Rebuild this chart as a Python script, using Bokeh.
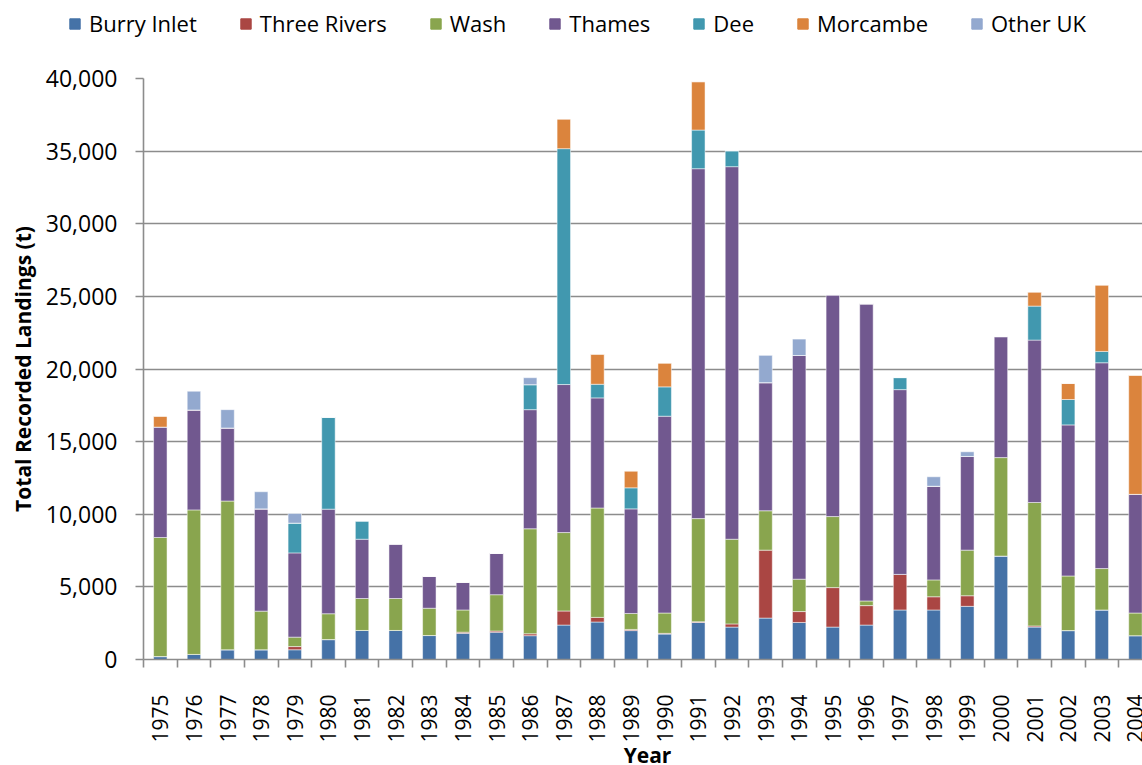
import math
from bokeh.plotting import figure
from bokeh.layouts import column
from bokeh.models import Range1d, FixedTicker, NumeralTickFormatter, Legend, LegendItem, Label
from bokeh.embed import file_html
from bokeh.resources import INLINE

years = list(range(1975, 2005))
series_names = ["Burry Inlet", "Three Rivers", "Wash", "Thames", "Dee", "Morcambe", "Other UK"]
colors = ["#4572A7", "#AA4643", "#89A54E", "#71588F", "#4198AF", "#DB843D", "#93A9CF"]

burry_inlet = [200, 350, 670, 670, 670, 1370, 2000, 2000, 1650, 1800, 1880, 1640, 2370, 2580, 1990,
               1750, 2550, 2230, 2850, 2550, 2230, 2370, 3410, 3410, 3660, 7120, 2230, 1990, 3410, 1640]
three_rivers = [0, 0, 0, 0, 220, 0, 0, 0, 0, 80, 80, 130, 970, 320, 80,
                50, 50, 220, 4680, 750, 2720, 1340, 2450, 910, 730, 0, 80, 0, 0, 0]
wash = [8200, 9950, 10240, 2660, 650, 1780, 2200, 2200, 1880, 1530, 2500, 7230, 5400, 7530, 1100,
        1400, 7100, 5830, 2710, 2230, 4890, 320, 0, 1160, 3140, 6780, 8500, 3760, 2850, 1560]
thames = [7600, 6880, 5030, 7040, 5800, 7200, 4080, 3750, 2200, 1910, 2850, 8200, 10190, 7580, 7200,
          13550, 24090, 25650, 8820, 15400, 15270, 20460, 12720, 6450, 6450, 8330, 11180, 10400, 14170, 8170]
dee = [0, 0, 0, 0, 2050, 6320, 1260, 0, 0, 0, 0, 1720, 16240, 940, 1450,
       2020, 2660, 1100, 0, 0, 0, 0, 830, 0, 0, 0, 2340, 1750, 780, 0]
morcambe = [750, 0, 0, 0, 0, 0, 0, 0, 0, 0, 0, 0, 2040, 2070, 1160,
            1640, 3330, 0, 0, 0, 0, 0, 0, 0, 0, 0, 970, 1100, 4570, 8200]
other_uk = [0, 1290, 1260, 1180, 670, 0, 0, 0, 0, 0, 0, 480, 0, 0, 0,
            0, 0, 0, 1880, 1130, 0, 0, 0, 650, 320, 0, 0, 0, 0, 0]

y_ticks = [0, 5000, 10000, 15000, 20000, 25000, 30000, 35000, 40000]
x_title = "Year"
y_title = "Total Recorded Landings (t)"

FONT = "Open Sans"
GRID = "#8c8c8c"

data = {"year": years}
for name, vals in zip(series_names, [burry_inlet, three_rivers, wash, thames, dee, morcambe, other_uk]):
    data[name] = vals


def strip(height):
    f = figure(width=1142, height=height, output_backend="svg", toolbar_location=None,
               x_range=Range1d(0, 1), y_range=Range1d(0, 1),
               x_axis_type=None, y_axis_type=None,
               min_border_left=0, min_border_right=0, min_border_top=0, min_border_bottom=0)
    f.frame_align = False
    f.outline_line_color = None
    f.grid.visible = False
    return f


# ---- legend strip (top) ----
lf = strip(60)
legend_renderers = lf.vbar_stack(series_names, x="year", width=0.4, source=data, color=colors)
for r in legend_renderers:
    r.visible = False
items = [LegendItem(label=n, renderers=[r]) for n, r in zip(series_names, legend_renderers)]
legend = Legend(items=items, orientation="horizontal", location=(68, 22),
                glyph_width=13, glyph_height=13, label_standoff=8, spacing=42,
                padding=2, margin=0, border_line_color=None, background_fill_alpha=0,
                label_text_font=FONT, label_text_font_size="22px", label_text_color="black")
lf.add_layout(legend, "center")

# ---- main chart ----
p = figure(width=1142, height=685, output_backend="svg", toolbar_location=None,
           x_range=Range1d(1974.5, 2004.21), y_range=Range1d(0, 40000),
           min_border_left=143, min_border_top=18, min_border_bottom=86, min_border_right=0)

p.vbar_stack(series_names, x="year", width=0.4, source=data, color=colors,
             line_color="white", line_width=0.5)

p.outline_line_color = None
p.xgrid.grid_line_color = None
p.ygrid.grid_line_color = GRID
p.ygrid.grid_line_width = 1.6
p.ygrid.ticker = FixedTicker(ticks=y_ticks)

# y axis
p.yaxis.ticker = FixedTicker(ticks=y_ticks)
p.yaxis.formatter = NumeralTickFormatter(format="0,0")
p.yaxis.axis_label = y_title
p.yaxis.axis_label_text_font = FONT
p.yaxis.axis_label_text_font_style = "bold"
p.yaxis.axis_label_text_font_size = "21px"
p.yaxis.axis_label_text_color = "black"
p.yaxis.axis_label_standoff = 6
p.yaxis.major_label_text_font = FONT
p.yaxis.major_label_text_font_size = "23px"
p.yaxis.major_label_text_color = "black"
p.yaxis.major_label_standoff = 18
p.yaxis.major_tick_out = 8
p.yaxis.major_tick_in = 0
p.yaxis.minor_tick_out = 0
p.yaxis.minor_tick_in = 0
p.yaxis.axis_line_color = GRID
p.yaxis.axis_line_width = 1.6
p.yaxis.major_tick_line_color = GRID
p.yaxis.major_tick_line_width = 1.6

# x axis
boundaries = [y - 0.5 for y in years] + [years[-1] + 0.5]
p.xaxis.ticker = FixedTicker(ticks=years, minor_ticks=boundaries)
p.xaxis.major_label_overrides = {y: str(y) for y in years}
p.xaxis.major_label_orientation = math.pi / 2
p.xaxis.major_label_text_font = FONT
p.xaxis.major_label_text_font_size = "21px"
p.xaxis.major_label_text_color = "black"
p.xaxis.major_label_standoff = 27
p.xaxis.major_tick_out = 0
p.xaxis.major_tick_in = 0
p.xaxis.minor_tick_out = 8
p.xaxis.minor_tick_in = 0
p.xaxis.minor_tick_line_color = GRID
p.xaxis.minor_tick_line_width = 1.6
p.xaxis.axis_line_color = GRID
p.xaxis.axis_line_width = 1.6

# ---- x title strip (bottom) ----
bf = strip(20)
bf.add_layout(Label(x=647, y=11, x_units="screen", y_units="screen", text=x_title,
                    text_align="center", text_baseline="middle", text_font=FONT,
                    text_font_style="bold", text_font_size="21px", text_color="black"))

layout = column(lf, p, bf, spacing=0)
open("out.html", "w").write(file_html(layout, INLINE))
